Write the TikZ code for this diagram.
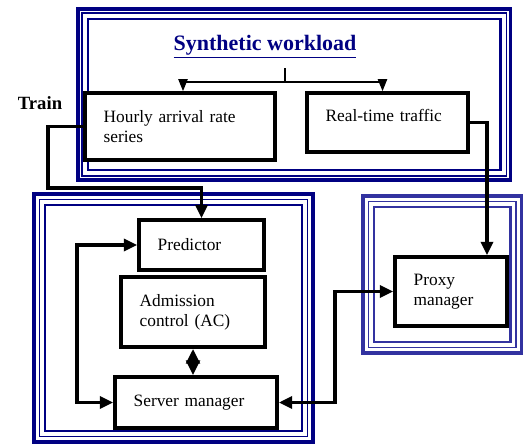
\documentclass[tikz,border=0pt]{standalone}
\usepackage{fontspec}
\setmainfont{Liberation Serif}
\usetikzlibrary{arrows.meta}
\definecolor{frameblue}{RGB}{0,0,130}
\definecolor{proxyblue}{RGB}{50,50,160}
\begin{document}
\begin{tikzpicture}[x=0.75pt,y=-0.75pt,
  >={Triangle[length=10pt,width=9pt]},
  blk/.style={draw,fill=white,line width=2.8pt,align=left,inner xsep=14pt,inner ysep=0pt,
    font=\fontsize{13}{15}\selectfont},
  wire/.style={line width=2.8pt},
  forkline/.style={line width=0.9pt,-{Triangle[length=9pt,width=7pt]}},
  heading/.style={font=\bfseries\fontsize{14}{16}\selectfont}]
\useasboundingbox (0,0) rectangle (523,444);
\foreach\o/\p/\w in {0/0/2.5pt,4/5.5/1.2pt,10/11/2pt} {
  \draw[frameblue,line width=\w] (78+\o,9+\o) rectangle (510.5-\o,180-\o);
  \draw[frameblue,line width=\w] (34+\p,194+\p) rectangle (313-\p,442-\p);
  \draw[proxyblue,line width=\w] (363+\p,196+\p) rectangle (521.5-\p,353-\p);
}
\node[heading,font=\bfseries\fontsize{16.5}{18}\selectfont,text=frameblue] (title) at (265,47) {\underline{Synthetic workload}};
\node[heading] (train) at (40,103) {Train};
\node[blk,minimum width=142.5pt,text width=114.5pt,minimum height=50.25pt] (hourly) at (180,126.5) {Hourly arrival rate\\series};
\node[blk,minimum width=120.75pt,text width=92.75pt,minimum height=44.25pt] (realtime) at (387.5,122.5) {Real-time traffic\\[-9pt]\strut};
\node[blk,minimum width=93.75pt,text width=65.75pt,minimum height=37.5pt] (predictor) at (201.5,245) {Predictor};
\node[blk,minimum width=108pt,text width=80pt,minimum height=52.5pt] (ac) at (193,312) {Admission\\control (AC)};
\node[blk,minimum width=121.5pt,text width=93.5pt,minimum height=38.25pt] (server) at (196,402.5) {Server manager};
\node[blk,minimum width=84pt,text width=56pt,minimum height=51.75pt] (proxy) at (451,291.5) {Proxy\\manager};
\coordinate (fork) at (285,68);
\coordinate (trainbend) at (48,188);
\coordinate (rtdrop) at (487,122.5);
\coordinate (loop) at (77,245);
\coordinate (spbend) at (335,402.5);
\draw[line width=0.9pt] (fork) -- ++(0,14) coordinate (forkmid);
\draw[forkline] (forkmid) -| ([xshift=2.25pt]hourly.north);
\draw[forkline] (forkmid) -| ([xshift=-3.75pt]realtime.north);
\draw[wire,->] (hourly.west) -| (trainbend) -| (predictor.north);
\draw[wire,->] (realtime.east) -- (rtdrop) -- (rtdrop |- proxy.north);
\draw[wire,<->] (predictor.west) -- (loop) |- (server.west);
\draw[wire,<->,>={Triangle[length=11pt,width=10pt]}] (ac.south) -- (ac.south |- server.north);
\draw[wire,<->] (server.east) -- (spbend) |- (proxy.west);
\end{tikzpicture}
\end{document}
